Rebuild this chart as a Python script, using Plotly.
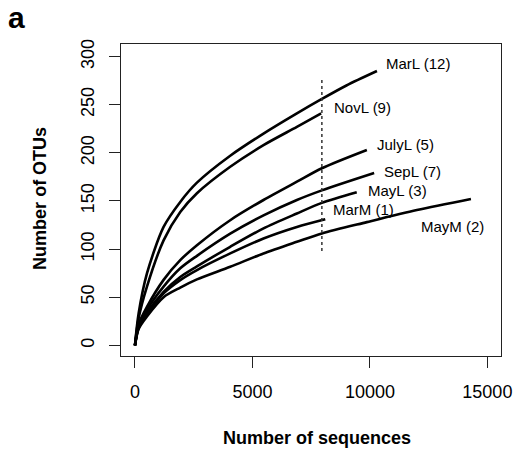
import plotly.graph_objects as go

# ---- data ----
series_names = ["MarL (12)", "NovL (9)", "JulyL (5)", "SepL (7)", "MayL (3)", "MarM (1)", "MayM (2)"]

marl_x = [0, 155, 510, 1218, 1927, 2638, 4054, 5471, 6892, 7955, 9000, 10300]
marl_y = [0, 33, 74.7, 123, 149, 169, 197, 220, 241, 256, 270, 285]

novl_x = [0, 155, 510, 1218, 1927, 2638, 4054, 5471, 6892, 7925]
novl_y = [0, 28, 61, 109, 138.5, 158, 185.5, 208, 227, 241]

julyl_x = [0, 155, 510, 1218, 1927, 2638, 4054, 5471, 6892, 7955, 9870]
julyl_y = [0, 22, 40, 68, 88.5, 104, 130, 151, 170, 184, 203]

sepl_x = [0, 155, 510, 1218, 1927, 2638, 4054, 5471, 6892, 7955, 10180]
sepl_y = [0, 20, 37, 61, 80, 93, 116, 135, 151, 161, 179]

mayl_x = [0, 155, 510, 1218, 1927, 2638, 4054, 5471, 6892, 7955, 9440]
mayl_y = [0, 19, 34, 55.6, 71, 82, 102.4, 121.5, 137, 148, 159]

marm_x = [0, 155, 510, 1218, 1927, 2638, 4054, 5471, 6892, 8100]
marm_y = [0, 18, 32, 54, 67.8, 78.2, 95.5, 111, 123, 131]

maym_x = [0, 155, 510, 1218, 1927, 2638, 4054, 5471, 6892, 7955, 9870, 12000, 14300]
maym_y = [0, 17, 30, 50, 60, 68.5, 81.6, 95.5, 107.6, 116.3, 128, 140.5, 152]

# label anchor positions (left edge of text, data coords)
label_x = [10600, 8380, 10220, 10530, 9830, 8350, 12080]
label_y = [292.5, 247, 208.7, 181, 160.5, 141.5, 123.8]

# rarefaction cut-off (dotted line)
cutoff_x = [7955, 7955]
cutoff_y = [98, 277]

x_ticks = [0, 5000, 10000, 15000]
y_ticks = [0, 50, 100, 150, 200, 250, 300]

FONT = "Liberation Sans, Arial, Helvetica, sans-serif"

fig = go.Figure()
for xs, ys in [(marl_x, marl_y), (novl_x, novl_y), (julyl_x, julyl_y), (sepl_x, sepl_y),
               (mayl_x, mayl_y), (marm_x, marm_y), (maym_x, maym_y)]:
    fig.add_trace(go.Scatter(x=xs, y=ys, mode="lines",
                             line=dict(color="black", width=2.6, shape="spline", smoothing=0.8),
                             showlegend=False, hoverinfo="skip"))

fig.add_trace(go.Scatter(x=cutoff_x, y=cutoff_y, mode="lines",
                         line=dict(color="#333333", width=1.5, dash="dot"),
                         showlegend=False, hoverinfo="skip"))

for name, lx, ly in zip(series_names, label_x, label_y):
    fig.add_annotation(x=lx, y=ly, text=name, showarrow=False, xanchor="left", yanchor="middle",
                       font=dict(family=FONT, size=15, color="black"))

# axis titles and panel letter
fig.add_annotation(xref="paper", yref="paper", x=0.516, y=-0.2626, text="<b>Number of sequences</b>",
                   showarrow=False, xanchor="center", yanchor="middle",
                   font=dict(family=FONT, size=18, color="black"))
fig.add_annotation(xref="paper", yref="paper", x=-0.212, y=0.505, text="<b>Number of OTUs</b>",
                   showarrow=False, xanchor="center", yanchor="middle", textangle=-90,
                   font=dict(family=FONT, size=18, color="black"))
fig.add_annotation(xref="paper", yref="paper", x=-0.275, y=1.0855, text="<b>a</b>",
                   showarrow=False, xanchor="center", yanchor="middle",
                   font=dict(family=FONT, size=30, color="black"))

fig.update_layout(
    width=515, height=451,
    margin=dict(l=121, r=14, t=44, b=95),
    paper_bgcolor="white", plot_bgcolor="white",
    font=dict(family=FONT, size=18, color="black"),
)
fig.update_xaxes(range=[-595, 15580], tickvals=x_ticks, ticktext=[str(v) for v in x_ticks],
                 showgrid=False, zeroline=False, showline=True, mirror=True, automargin=False,
                 linecolor="#222222", linewidth=1.2, ticks="outside", ticklen=11,
                 tickcolor="#222222", tickwidth=1.2, ticklabelstandoff=8,
                 tickfont=dict(family=FONT, size=18, color="black"))
fig.update_yaxes(range=[-11.1, 313.1], tickvals=y_ticks, ticktext=[str(v) for v in y_ticks],
                 showgrid=False, zeroline=False, showline=True, mirror=True, automargin=False,
                 linecolor="#222222", linewidth=1.2, ticks="outside", ticklen=11,
                 tickcolor="#222222", tickwidth=1.2, tickangle=-90, ticklabelstandoff=8,
                 tickfont=dict(family=FONT, size=18, color="black"))

fig.write_html("out.html", config={"displayModeBar": False},
               post_script="document.body.style.margin='0';")
